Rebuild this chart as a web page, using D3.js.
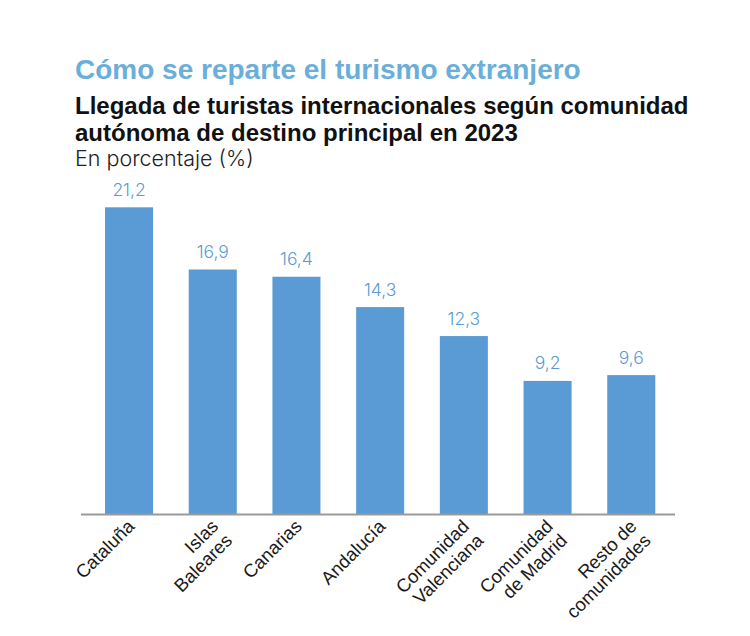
<!DOCTYPE html>
<html>
<head>
<meta charset="utf-8">
<script src="https://cdn.jsdelivr.net/npm/d3@7/dist/d3.min.js"></script>
<style>
  html, body { margin: 0; padding: 0; background: #ffffff; }
  svg { display: block; }
</style>
</head>
<body>
<svg id="chart" width="750" height="636"></svg>
<script>
const categories = ["Cataluña", "Islas Baleares", "Canarias", "Andalucía", "Comunidad Valenciana", "Comunidad de Madrid", "Resto de comunidades"];
const categoryLines = [["Cataluña"], ["Islas", "Baleares"], ["Canarias"], ["Andalucía"], ["Comunidad", "Valenciana"], ["Comunidad", "de Madrid"], ["Resto de", "comunidades"]];
const values = [21.2, 16.9, 16.4, 14.3, 12.3, 9.2, 9.6];
const valueLabels = ["21,2", "16,9", "16,4", "14,3", "12,3", "9,2", "9,6"];
const titleText = "Cómo se reparte el turismo extranjero";
const subtitleLines = ["Llegada de turistas internacionales según comunidad", "autónoma de destino principal en 2023"];
const unitText = "En porcentaje (%)";

const svg = d3.select("#chart");
const sans = "'Liberation Sans', Arial, Helvetica, sans-serif";
const light = "Inter, 'Liberation Sans', sans-serif";

svg.append("text").attr("x", 75).attr("y", 79)
  .attr("font-family", sans).attr("font-weight", 700).attr("font-size", 28)
  .attr("fill", "#6aafd9").text(titleText);

subtitleLines.forEach((t, i) => {
  svg.append("text").attr("x", 75).attr("y", 114 + i * 27)
    .attr("font-family", sans).attr("font-weight", 700).attr("font-size", 24)
    .attr("fill", "#111").text(t);
});

svg.append("text").attr("x", 75).attr("y", 166)
  .attr("font-family", light).attr("font-weight", 300).attr("font-size", 21.5)
  .attr("fill", "#222").text(unitText);

const axisY = 514;
const x = d3.scaleBand().domain(categories).range([81, 679.3]).paddingInner(0.426).paddingOuter(0.287);
const y = d3.scaleLinear().domain([0, 21.2]).range([axisY, 207.3]);

const g = svg.append("g");
g.selectAll("rect.bar").data(values).join("rect")
  .attr("class", "bar")
  .attr("x", (d, i) => x(categories[i]))
  .attr("width", x.bandwidth())
  .attr("y", d => y(d))
  .attr("height", d => axisY - y(d))
  .attr("fill", "#5b9bd5");

g.selectAll("text.val").data(values).join("text")
  .attr("class", "val")
  .attr("x", (d, i) => x(categories[i]) + x.bandwidth() / 2)
  .attr("y", d => y(d) - 11.5)
  .attr("text-anchor", "middle")
  .attr("font-family", light).attr("font-weight", 300).attr("font-size", 17.5)
  .attr("fill", "#5b9bd5")
  .text((d, i) => valueLabels[i]);

// axis (ticks hidden) and baseline
const xAxis = d3.axisBottom(x).tickSize(0).tickFormat("");
const axG = svg.append("g").attr("transform", `translate(0,${axisY})`).call(xAxis);
axG.select(".domain").remove();
svg.append("line").attr("x1", 81).attr("x2", 675).attr("y1", axisY + 0.5).attr("y2", axisY + 0.5)
  .attr("stroke", "#9a9a9a").attr("stroke-width", 2);

// category labels (rotated, right-aligned, first line at the tick)
const lh = 20;
categories.forEach((c, i) => {
  const lines = categoryLines[i];
  const cx = x(c) + x.bandwidth() / 2;
  const lg = svg.append("g").attr("transform", `translate(${cx + 6.5},${axisY + 13.5}) rotate(-45)`);
  lg.selectAll("text").data(lines).join("text")
    .attr("font-family", sans).attr("font-size", 18.5).attr("fill", "#1a1a1a")
    .attr("text-anchor", "end")
    .attr("x", 0)
    .attr("y", (d, j) => j * lh)
    .text(d => d);
});
</script>
</body>
</html>
